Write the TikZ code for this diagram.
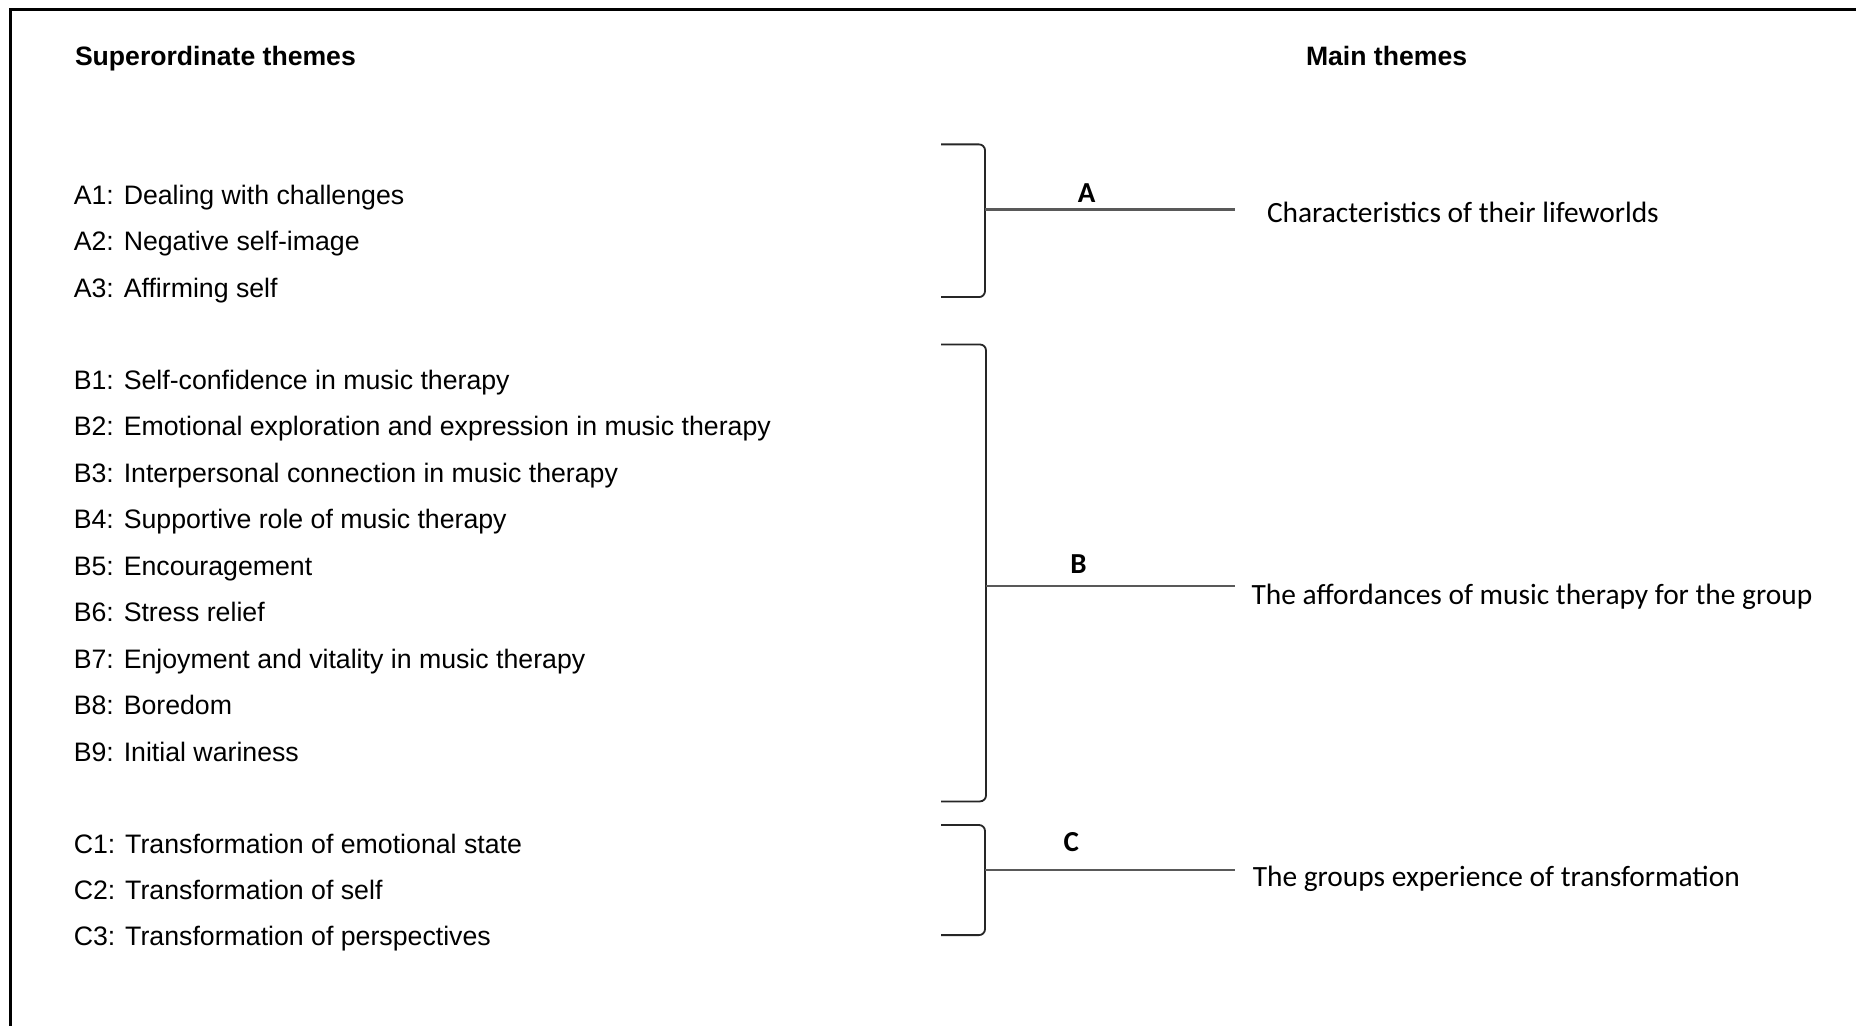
\documentclass[tikz,border=0pt]{standalone}
\usepackage{fontspec}
\setmainfont{Liberation Sans}
\newfontfamily\calfont{Carlito}
\begin{document}
\begin{tikzpicture}[x=0.5pt,y=-0.5pt,
  item/.style={anchor=base west, inner sep=0pt, font=\fontsize{13.35}{16}\selectfont},
  head/.style={anchor=base west, inner sep=0pt, font=\fontsize{13.3}{16}\selectfont\bfseries},
  mainth/.style={anchor=base west, inner sep=0pt, font=\calfont\fontsize{14.7}{17}\selectfont},
  letter/.style={anchor=base, inner sep=0pt, font=\calfont\bfseries\fontsize{14.5}{17}\selectfont},
  brack/.style={draw=black!85, line width=0.9pt, rounded corners=3pt},
  tick/.style={draw=black!65, line width=1.2pt},
  framed/.style={line width=1.5pt}]
\useasboundingbox (0,0) rectangle (1856,1026);
\fill[white] (0,0) rectangle (1856,1026);
\draw[framed] (10.7,1026) -- (10.7,9.5) -- (1856,9.5);

% headers
\node[head] (hsup) at (74.6,65.5) {Superordinate themes};
\node[head] (hmain) at (1305.6,65.5) {Main themes};

% A items
\node[item] (a1) at (73.4,204.7) {A1: Dealing with challenges};
\node[item] (a2) at (73.4,250.9) {A2: Negative self-image};
\node[item] (a3) at (73.4,297.1) {A3: Affirming self};
% B items
\node[item] (b1) at (73.4,389.4) {B1: Self-confidence in music therapy};
\node[item] (b2) at (73.4,435.9) {B2: Emotional exploration and expression in music therapy};
\node[item] (b3) at (73.4,482.3) {B3: Interpersonal connection in music therapy};
\node[item] (b4) at (73.4,528.8) {B4: Supportive role of music therapy};
\node[item] (b5) at (73.4,575.2) {B5: Encouragement};
\node[item] (b6) at (73.4,621.7) {B6: Stress relief};
\node[item] (b7) at (73.4,668.1) {B7: Enjoyment and vitality in music therapy};
\node[item] (b8) at (73.4,714.6) {B8: Boredom};
\node[item] (b9) at (73.4,761.0) {B9: Initial wariness};
% C items
\node[item] (c1) at (73.4,853.4) {C1: Transformation of emotional state};
\node[item] (c2) at (73.4,899.6) {C2: Transformation of self};
\node[item] (c3) at (73.4,945.8) {C3: Transformation of perspectives};

% brackets
\draw[brack] (941,144.4) -- (985,144.4) -- (985,297.1) -- (941,297.1);
\draw[brack] (941,344.5) -- (986,344.5) -- (986,801.4) -- (941,801.4);
\draw[brack] (941,825) -- (985,825) -- (985,935.1) -- (941,935.1);

% bracket mid points and line ends
\coordinate (ma) at (985,209.5);
\coordinate (ea) at (1235,209.5);
\coordinate (mb) at (986,585.9);
\coordinate (eb) at (1235,585.9);
\coordinate (mc) at (985,870);
\coordinate (ec) at (1235,870);
\draw[tick] (ma) -- (ea);
\draw[tick] (mb) -- (eb);
\draw[tick] (mc) -- (ec);

% letters
\node[letter] (la) at (1086.6,203) {A};
\node[letter] (lb) at (1078.4,573.6) {B};
\node[letter] (lc) at (1071.3,851.8) {C};

% main themes
\node[mainth] (ta) at (1266.6,223) {Characteristics of their lifeworlds};
\node[mainth] (tb) at (1251.2,604.2) {The affordances of music therapy for the group};
\node[mainth] (tc) at (1252.4,886) {The groups experience of transformation};
\end{tikzpicture}
\end{document}
